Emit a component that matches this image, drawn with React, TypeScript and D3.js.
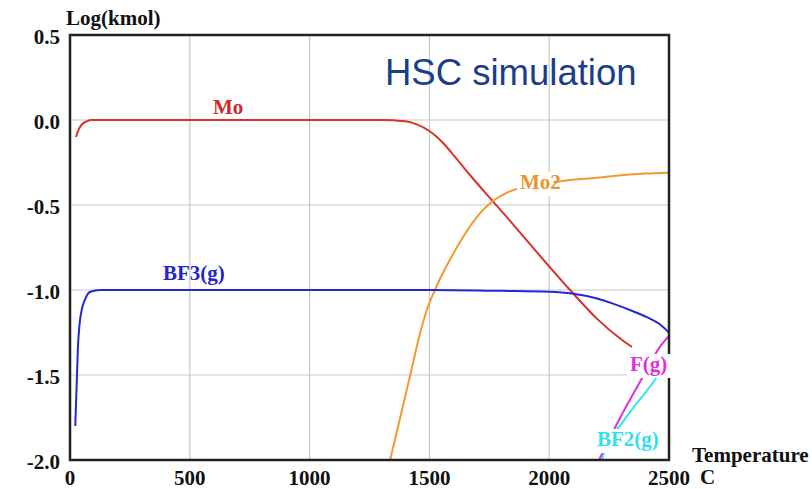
import React from 'react';
import * as d3 from 'd3';

const xTicks = [0, 500, 1000, 1500, 2000, 2500];
const yTicks = [0.5, 0.0, -0.5, -1.0, -1.5, -2.0];
const yTickLabels = ['0.5', '0.0', '-0.5', '-1.0', '-1.5', '-2.0'];

const moT = [25, 35, 50, 70, 90, 1300, 1350, 1400, 1450, 1500, 1550, 1600, 1670, 1766, 1850, 1950, 2087, 2200, 2300, 2345];
const moLog = [-0.1, -0.06, -0.025, -0.008, 0, 0, -0.002, -0.008, -0.027, -0.065, -0.125, -0.205, -0.325, -0.48, -0.615, -0.78, -1.0, -1.17, -1.29, -1.335];

const mo2T = [1336, 1380, 1420, 1460, 1490, 1523, 1560, 1600, 1640, 1680, 1720, 1766, 1820, 1865, 1950, 2020, 2087, 2200, 2300, 2400, 2500];
const mo2Log = [-2.0, -1.74, -1.5, -1.26, -1.115, -1.0, -0.89, -0.785, -0.69, -0.605, -0.535, -0.475, -0.43, -0.405, -0.38, -0.365, -0.353, -0.34, -0.325, -0.315, -0.31];

const bf3T = [22, 28, 33, 40, 50, 63, 83, 125, 1500, 1800, 2000, 2095, 2200, 2266, 2350, 2408, 2460, 2500];
const bf3Log = [-1.8, -1.55, -1.34, -1.2, -1.11, -1.055, -1.012, -1.0, -1.0, -1.005, -1.01, -1.02, -1.05, -1.08, -1.125, -1.16, -1.2, -1.25];

const fT = [2208, 2229, 2287, 2391, 2462, 2500];
const fLog = [-2.0, -1.94, -1.776, -1.51, -1.335, -1.27];

const bf2T = [2220, 2233, 2308, 2450, 2500];
const bf2Log = [-2.0, -1.94, -1.776, -1.51, -1.40];

const W = 812;
const H = 489;
const left = 70;
const right = 669;
const top = 35;
const bottom = 460;

const serif = '"Liberation Serif", "Times New Roman", serif';

export default function App() {
  const x = d3.scaleLinear().domain([0, 2500]).range([left, right]);
  const y = d3.scaleLinear().domain([-2.0, 0.5]).range([bottom, top]);
  const line = d3
    .line<[number, number]>()
    .x((d) => x(d[0]))
    .y((d) => y(d[1]))
    .curve(d3.curveMonotoneX);
  const mk = (t: number[], v: number[]) => line(t.map((tt, i) => [tt, v[i]] as [number, number])) || '';

  const series = [
    { t: moT, v: moLog, color: '#d8322e' },
    { t: mo2T, v: mo2Log, color: '#f09a30' },
    { t: bf3T, v: bf3Log, color: '#2626d6' },
    { t: fT, v: fLog, color: '#e02ee0' },
    { t: bf2T, v: bf2Log, color: '#34e4f0' },
  ];

  const labels = [
    { text: 'Mo', x: 213, y: 114, color: '#d02a2a', bg: false },
    { text: 'Mo2', x: 520, y: 189, color: '#e8952c', bg: true },
    { text: 'BF3(g)', x: 163, y: 280, color: '#2424d0', bg: false },
    { text: 'F(g)', x: 630, y: 371, color: '#e030e0', bg: true },
    { text: 'BF2(g)', x: 597, y: 446, color: '#30e0ee', bg: true },
  ];

  return (
    <svg width={W} height={H} style={{ position: 'absolute', left: 0, top: 0, background: '#fff' }}>
      <rect x={0} y={0} width={W} height={H} fill="#fff" />
      {xTicks.slice(1, -1).map((t) => (
        <line key={'gx' + t} x1={x(t)} x2={x(t)} y1={top} y2={bottom} stroke="#c8c8c8" strokeWidth={1.2} />
      ))}
      {yTicks.slice(1, -1).map((t) => (
        <line key={'gy' + t} x1={left} x2={right} y1={y(t)} y2={y(t)} stroke="#c8c8c8" strokeWidth={1.2} />
      ))}
      {series.map((s, i) => (
        <path key={i} d={mk(s.t, s.v)} fill="none" stroke={s.color} strokeWidth={2} strokeLinejoin="round" />
      ))}
      <rect x={left} y={top} width={right - left} height={bottom - top} fill="none" stroke="#222" strokeWidth={2.5} />
      {labels.map((l, i) => (
        <g key={i}>
          {l.bg && (
            <rect
              x={l.x - 3}
              y={l.y - 17}
              width={l.text.length * 10.8 + 4}
              height={24}
              fill="#fff"
            />
          )}
          <text x={l.x} y={l.y} fill={l.color} fontFamily={serif} fontWeight="bold" fontSize={21}>
            {l.text}
          </text>
        </g>
      ))}
      {yTicks.map((t, i) => (
        <text
          key={'yl' + t}
          x={60}
          y={y(t) + 9}
          textAnchor="end"
          fontFamily={serif}
          fontWeight="bold"
          fontSize={21}
          fill="#111"
        >
          {yTickLabels[i]}
        </text>
      ))}
      {xTicks.map((t) => (
        <text
          key={'xl' + t}
          x={x(t)}
          y={485}
          textAnchor="middle"
          fontFamily={serif}
          fontWeight="bold"
          fontSize={21}
          fill="#111"
        >
          {t}
        </text>
      ))}
      <text x={66} y={25} fontFamily={serif} fontWeight="bold" fontSize={21} fill="#111">
        Log(kmol)
      </text>
      <text x={692} y={462} fontFamily={serif} fontWeight="bold" fontSize={21} fill="#111">
        Temperature
      </text>
      <text x={700} y={484} fontFamily={serif} fontWeight="bold" fontSize={21} fill="#111">
        C
      </text>
      <text
        x={385}
        y={85}
        fontFamily='"Liberation Sans", Arial, sans-serif'
        fontSize={36.5}
        fill="#1c3d8a"
      >
        HSC simulation
      </text>
    </svg>
  );
}
